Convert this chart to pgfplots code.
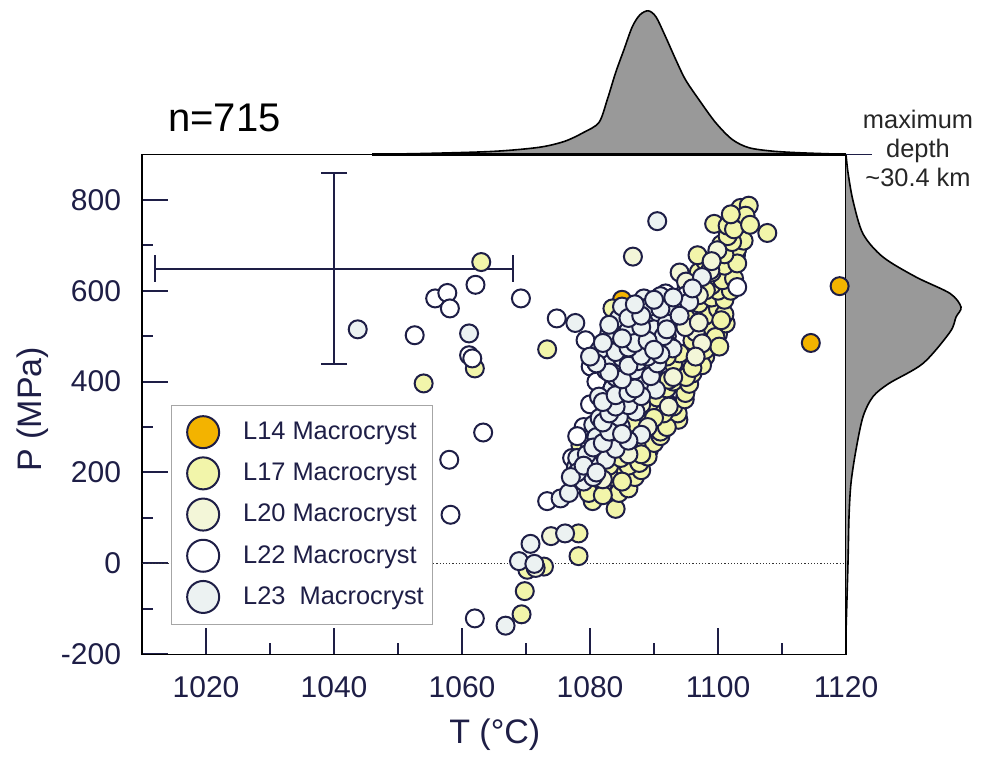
\documentclass[border=0pt]{standalone}
\usepackage{pgfplots}
\pgfplotsset{compat=1.18}
\usepackage{fontspec}
\setmainfont{Liberation Sans}
\definecolor{navy}{RGB}{30,30,70}
\definecolor{cLfourteen}{RGB}{243,179,0}
\definecolor{cLseventeen}{RGB}{242,245,170}
\definecolor{cLtwenty}{RGB}{243,246,216}
\definecolor{cLtwentytwo}{RGB}{255,255,255}
\definecolor{cLtwentythree}{RGB}{236,242,242}
\definecolor{dens}{RGB}{153,153,153}
\begin{document}
\begin{tikzpicture}
\begin{axis}[
 scale only axis, width=352pt, height=250pt,
 xmin=1010, xmax=1120, ymin=-200, ymax=900,
 clip=false,
 axis line style={black, line width=0.8pt},
 tick pos=left, tick align=inside,
 xtick={1020,1040,...,1120}, minor xtick={1030,1050,...,1110},
 ytick={-200,0,...,800}, minor ytick={-100,100,...,700},
 major tick length=13pt, minor tick length=5.5pt,
 tick style={navy, line width=1pt},
 /pgf/number format/assume math mode=true,
 /pgf/number format/1000 sep={},
 tick label style={font=\fontsize{15}{18}\selectfont, text=navy},
 xticklabel style={yshift=-7.5pt},
 yticklabel style={xshift=-7pt},
 xlabel={T (°C)}, ylabel={P (MPa)},
 label style={font=\fontsize{17}{20}\selectfont, text=navy},
 xlabel style={at={(axis description cs:0.501,-0.16)}, anchor=center},
 ylabel style={at={(axis description cs:-0.156,0.49)}, anchor=center},
 legend style={at={(axis cs:1014.5,349)}, anchor=north west, draw=gray!70, fill=white,
   font=\fontsize{12.7}{15}\selectfont, text=navy, inner xsep=2.5pt, inner ysep=5.5pt,
   row sep=4.6pt, /tikz/every odd column/.append style={column sep=10pt}},
 legend cell align=left,
 legend image code/.code={\path (-13.25pt,0pt); \draw[#1, mark size=8pt] plot coordinates {(0pt,0pt)};},
]
% invisible frame giving the picture its proportions
\path (axis cs:987.8,-435.2) rectangle (axis cs:1142.5,1239.6);

% top marginal density
\addplot[forget plot, smooth, tension=0.5, fill=dens, draw=black, line width=0.8pt] coordinates {
(1046,900) (1055,902.2) (1065,906.6) (1072,915.4) (1076,928.5) (1079,948.2) (1081.4,970.2)
(1082.7,1020.6) (1084,1079.8) (1085.3,1130.3) (1086.6,1180.7) (1087.8,1207) (1089.1,1215.8)
(1090.3,1202.6) (1091.8,1158.8) (1093.4,1108.3) (1094.9,1064.5) (1097,1020.6) (1099.6,970.2)
(1102.2,932.9) (1104.8,914.7) (1108.4,907.2) (1113,903.3) (1120,900)};
\addplot[forget plot, black, line width=1.6pt] coordinates {(1046,900) (1120,900)};

% right marginal density
\addplot[forget plot, smooth, tension=0.5, fill=dens, draw=black, line width=0.8pt] coordinates {
(1120,900) (1120.31,860) (1121.09,798) (1122.66,725) (1125.78,674) (1130.94,630) (1136.25,594)
(1137.97,564) (1137.19,542) (1136.25,509) (1132.03,440) (1126.72,396) (1124.22,367)
(1122.66,323) (1121.56,250) (1120.78,177) (1120.47,104) (1120.31,2) (1120,-150)};
\addplot[forget plot, navy, line width=0.8pt] coordinates {(1120,900) (1124,900)};

% zero line
\addplot[forget plot, densely dotted, black!80, line width=0.6pt] coordinates {(1010,0) (1120,0)};

% uncertainty cross
\addplot[forget plot, navy, line width=1pt, mark=|, mark size=6.8pt, mark options={solid}] coordinates {(1012,648) (1068,648)};
\addplot[forget plot, navy, line width=1pt, mark=-, mark size=6.5pt, mark options={solid}] coordinates {(1040,438) (1040,858)};

% L14
\addplot[only marks, mark=*, mark size=4.5pt, mark options={fill=cLfourteen, draw=navy, line width=1pt}]
coordinates {(1085,580) (1114.5,485) (1119,610)};
\addlegendentry{L14 Macrocryst}

% L17
\addplot[only marks, mark=*, mark size=4.5pt, mark options={fill=cLseventeen, draw=navy, line width=1pt}]
coordinates {
(1063,663) (1062,429) (1054,396) (1073.3,471) (1069.3,-112) (1069.8,-61) (1072.8,-7) (1070.2,-14)
(1078.2,66) (1078.2,16)
(1080.4,137) (1084.0,120) (1084.5,155) (1082.0,175) (1083.8,190) (1085.6,202) (1080.0,160) (1079.0,200) (1079.8,155)
(1086,165) (1087,190) (1088,205) (1083,215) (1086,215) (1085,180) (1082,150) (1081,205)
(1087.6,225) (1084.8,232) (1087.7,221) (1089.2,250) (1087.7,272) (1086.0,255) (1085.0,275) (1079.8,294) (1078.5,260)
(1089,235) (1090,265) (1091,280) (1088,240)
(1090.5,305) (1088.7,323) (1091.0,290) (1093.8,316) (1093.7,330) (1086.5,310) (1089.5,340) (1092.3,350) (1090.5,365)
(1092,300) (1091.5,330) (1093,345) (1090,320)
(1094.8,361) (1094.9,375) (1092.0,385) (1093.0,400) (1092.3,404) (1089.0,395) (1095.5,395)
(1094.0,420) (1096.0,418) (1095.5,447) (1097.0,469) (1099.6,480) (1093.0,440) (1094.0,462) (1096.0,490) (1098.0,455) (1092.0,455) (1097.5,436)
(1095,410) (1096,430) (1098,470) (1098.5,500) (1100,505)
(1097.0,510) (1099.0,520) (1101.2,528) (1099.6,498) (1100.2,477) (1098.0,545) (1100.0,560) (1097.0,572) (1099.0,585) (1095.0,540) (1101.0,548)
(1100.5,535) (1101,580) (1100,600) (1102,600) (1099,612)
(1098.1,601) (1096.0,616) (1100.7,623) (1102.5,627) (1097.0,641) (1099.0,640) (1101.0,655) (1098.0,665) (1096.8,678) (1102.8,678) (1103.0,692) (1100.5,702)
(1103,660) (1101,680) (1104,710)
(1102.2,707) (1101.5,720) (1107.7,727) (1099.4,747) (1101.5,743) (1103.7,751) (1103.5,782) (1104.8,787) (1104.3,765) (1102.5,735)
(1105,745) (1102,768)
(1083.5,561)};
\addlegendentry{L17 Macrocryst}

% L20
\addplot[only marks, mark=*, mark size=4.5pt, mark options={fill=cLtwenty, draw=navy, line width=1pt}]
coordinates {
(1086.7,675) (1099.9,689) (1098.8,645) (1096.5,509) (1097.5,484) (1094.9,520) (1092.3,345) (1073.9,60) (1071.5,-10)
(1090,430) (1092,500) (1095,600) (1088,350) (1094,560) (1097,530) (1091,540) (1089,300) (1086,240) (1091,470)
(1093,410) (1096.5,455) (1082,185) (1094,640) (1097,590) (1095,620) (1099,665)};
\addlegendentry{L20 Macrocryst}

% L22
\addplot[only marks, mark=*, mark size=4.5pt, mark options={fill=cLtwentytwo, draw=navy, line width=1pt}]
coordinates {
(1062.1,613) (1055.8,583) (1057.7,595) (1058.1,561) (1069.2,583) (1052.6,502) (1061.1,458) (1061.6,451)
(1063.3,288) (1058,228) (1058.2,107) (1062,-121) (1074.8,539) (1079.3,491) (1080.1,433) (1091.8,594)
(1103,608) (1073.3,137) (1077.2,232)
(1082,440) (1084,500) (1086,470) (1088,560) (1082,330) (1080,260) (1079,300) (1081,400) (1083,360)
(1085,430) (1087,520) (1089,530) (1090,500) (1086,400) (1084,300) (1080,350) (1078,280) (1090,570)
(1093,560) (1095,590) (1079,190) (1081,230)};
\addlegendentry{L22 Macrocryst}

% L23
\addplot[only marks, mark=*, mark size=4.5pt, mark options={fill=cLtwentythree, draw=navy, line width=1pt}]
coordinates {
(1043.7,515) (1061.1,506) (1066.8,-137) (1068.9,5) (1071.3,-1) (1070.7,43) (1076.1,66) (1075.4,143)
(1076.7,155) (1077.8,212) (1077.7,529) (1090.5,753)
(1082.2,298) (1083.5,342) (1088.4,583) (1095.5,575) (1093.1,556) (1090.8,550) (1085.6,528) (1087.7,509)
(1089.2,477) (1092.3,480) (1084.5,539) (1086.9,553) (1092.9,473) (1086.1,462) (1082.5,425) (1085.8,418)
(1087.9,396) (1090.3,382) (1083.5,385) (1081.4,367) (1083.2,341) (1085.3,360) (1087.1,334) (1080.5,305)
(1084.8,301) (1083.5,272) (1081.9,250) (1078,232) (1080.4,213) (1079,180) (1080.5,190) (1082.5,228)
(1084,252) (1081,278) (1081.5,320) (1084.5,322) (1086,348) (1088,368) (1085,390) (1084,410) (1087,425)
(1089.5,412) (1083,448) (1085,452) (1087.5,445) (1084,482) (1086.5,490) (1088.5,500) (1090,515)
(1086,512) (1085,565) (1089,563) (1091,588) (1092,528) (1083,505) (1081.5,470) (1090.5,440) (1089,455)
(1091.5,500) (1097.5,630) (1096,605) (1088,283) (1086,270)
(1079.5,240) (1080.5,255) (1082,265) (1083,290) (1085,285) (1082,310) (1083,330) (1084,345) (1082,355)
(1084,370) (1086,375) (1087,385) (1085,405) (1083,420) (1086,435) (1088,457) (1084,465) (1086,475)
(1087,485) (1085,495) (1089,490) (1091,460) (1090,470) (1088,520) (1086,540) (1088,545) (1091,560)
(1087,570) (1090,580) (1093,585) (1094,545) (1092,515) (1081,440) (1080,455) (1082,485) (1083,525)
(1078,200) (1077,190) (1079,215) (1081,200)};
\addlegendentry{L23~~Macrocryst}

\node[anchor=west, font=\fontsize{20}{24}\selectfont, text=black] at (axis cs:1013,980) {n=715};
\node[align=center, font=\fontsize{12.7}{14.5}\selectfont, text=black!85] at (axis cs:1131.25,914) {maximum\\depth\\\textasciitilde 30.4 km};
\end{axis}
\end{tikzpicture}
\end{document}
